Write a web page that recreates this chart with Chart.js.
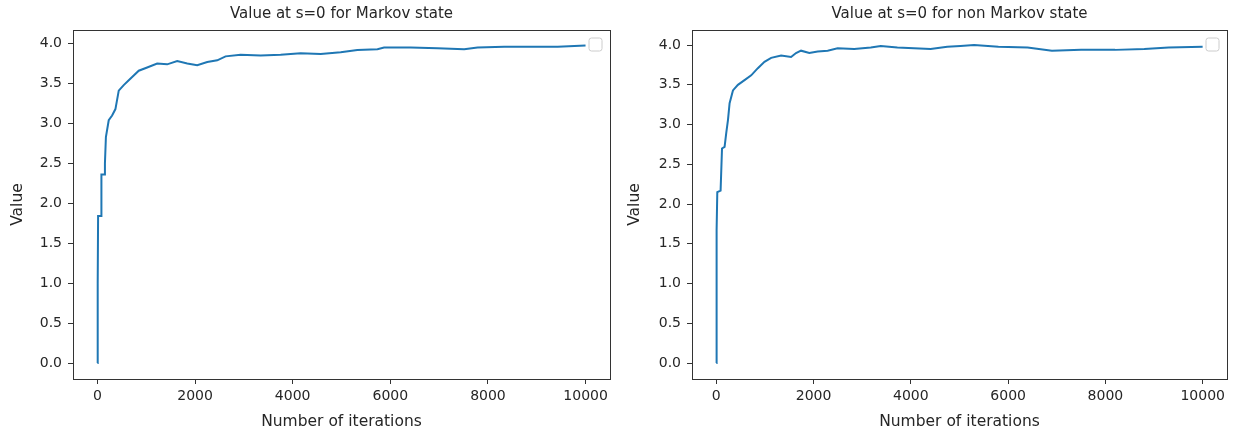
<!DOCTYPE html>
<html>
<head>
<meta charset="utf-8">
<script src="https://cdn.jsdelivr.net/npm/chart.js@4/dist/chart.umd.min.js"></script>
<style>
  html, body { margin: 0; padding: 0; background: #fff; }
  .box { position: absolute; top: 0; width: 617px; height: 435px; }
  #leftBox { left: 0; }
  #rightBox { left: 617px; }
</style>
</head>
<body>
<div class="box" id="leftBox"><canvas id="markovChart" width="617" height="435"></canvas></div>
<div class="box" id="rightBox"><canvas id="nonMarkovChart" width="617" height="435"></canvas></div>
<script>
// values
const markovIters = [0, 6, 14, 76, 82, 137, 154, 174, 232, 301, 369, 437, 539, 642, 744, 847,
  1019, 1224, 1429, 1635, 1840, 2045, 2250, 2455, 2625, 2933, 3343, 3753, 4163, 4573, 4983,
  5325, 5736, 5872, 6419, 6967, 7513, 7787, 8333, 8880, 9428, 9999];
const markovValues = [0, 1.0, 1.84, 1.84, 2.36, 2.36, 2.5, 2.83, 3.04, 3.1, 3.18, 3.41, 3.48, 3.54, 3.6, 3.66,
  3.70, 3.75, 3.74, 3.78, 3.75, 3.73, 3.77, 3.79, 3.84, 3.86, 3.85, 3.86, 3.88, 3.87, 3.89,
  3.92, 3.93, 3.95, 3.95, 3.94, 3.93, 3.95, 3.96, 3.96, 3.96, 3.975];

const nonMarkovIters = [0, 6, 20, 88, 117, 170, 205, 240, 273, 342, 444, 580, 717, 854, 990, 1127,
  1332, 1537, 1639, 1742, 1912, 2084, 2289, 2494, 2834, 3176, 3381, 3723, 4064, 4406, 4748,
  5020, 5300, 5800, 6400, 6900, 7500, 8200, 8800, 9300, 9999];
const nonMarkovValues = [0, 1.67, 2.15, 2.17, 2.70, 2.72, 2.90, 3.06, 3.27, 3.43, 3.50, 3.56, 3.62, 3.71, 3.79, 3.84,
  3.87, 3.85, 3.90, 3.93, 3.90, 3.92, 3.93, 3.96, 3.95, 3.97, 3.99, 3.97, 3.96, 3.95, 3.98,
  3.99, 4.00, 3.98, 3.97, 3.93, 3.94, 3.94, 3.95, 3.97, 3.98];

const xTicks = [0, 2000, 4000, 6000, 8000, 10000];
const yTicks = [0, 0.5, 1.0, 1.5, 2.0, 2.5, 3.0, 3.5, 4.0];

const textColor = "#262626";
const spineColor = "#333";
const lineColor = "#1f77b4";

// full box round the axes plus the empty legend frame in the top right
const framePlugin = {
  id: "frame",
  afterDraw(chart) {
    const { ctx, chartArea: a } = chart;
    ctx.save();
    ctx.strokeStyle = spineColor;
    ctx.lineWidth = 1;
    ctx.strokeRect(Math.round(a.left) + 0.5, Math.round(a.top) + 0.5,
      Math.round(a.right - a.left), Math.round(a.bottom - a.top));
    // empty legend
    const lx = a.right - 21, ly = a.top + 8, s = 13, r = 2.5;
    ctx.beginPath();
    ctx.moveTo(lx + r, ly);
    ctx.arcTo(lx + s, ly, lx + s, ly + s, r);
    ctx.arcTo(lx + s, ly + s, lx, ly + s, r);
    ctx.arcTo(lx, ly + s, lx, ly, r);
    ctx.arcTo(lx, ly, lx + s, ly, r);
    ctx.closePath();
    ctx.fillStyle = "rgba(255,255,255,0.8)";
    ctx.fill();
    ctx.strokeStyle = "#cccccc";
    ctx.stroke();
    ctx.restore();
  },
};

function makeChart(canvasId, titleText, iters, values, yMax, yWidth) {
  const ctx = document.getElementById(canvasId).getContext("2d");
  return new Chart(ctx, {
    type: "line",
    data: {
      datasets: [
        {
          data: iters.map((x, i) => ({ x: x, y: values[i] })),
          borderColor: lineColor,
          borderWidth: 2,
          pointRadius: 0,
          tension: 0,
          fill: false,
        },
      ],
    },
    options: {
      responsive: false,
      animation: false,
      devicePixelRatio: 1,
      layout: { padding: { left: 0, right: 7, top: 0, bottom: 0 } },
      plugins: {
        legend: { display: false },
        tooltip: { enabled: false },
        title: {
          display: true,
          text: titleText,
          fullSize: false,
          color: textColor,
          font: { family: "DejaVu Sans", size: 15, weight: "normal" },
          padding: { top: 5, bottom: 7 },
        },
      },
      scales: {
        x: {
          type: "linear",
          min: -500,
          max: 10500,
          afterBuildTicks: (scale) => {
            scale.ticks = xTicks.map((v) => ({ value: v }));
          },
          afterFit: (scale) => {
            scale.height = 56;
          },
          border: { display: false },
          grid: { drawOnChartArea: false, tickLength: 5, tickColor: spineColor },
          ticks: {
            color: textColor,
            padding: 4,
            maxRotation: 0,
            font: { family: "DejaVu Sans", size: 14 },
            callback: (v) => String(v),
          },
          title: {
            display: true,
            text: "Number of iterations",
            color: textColor,
            font: { family: "DejaVu Sans", size: 15.5 },
            padding: { top: 0, bottom: 4 },
          },
        },
        y: {
          type: "linear",
          min: -0.2,
          max: yMax,
          afterBuildTicks: (scale) => {
            scale.ticks = yTicks.map((v) => ({ value: v }));
          },
          afterFit: (scale) => {
            scale.width = yWidth;
          },
          border: { display: false },
          grid: { drawOnChartArea: false, tickLength: 5, tickColor: spineColor },
          ticks: {
            color: textColor,
            padding: 6,
            font: { family: "DejaVu Sans", size: 14 },
            callback: (v) => Number(v).toFixed(1),
          },
          title: {
            display: true,
            text: "Value",
            color: textColor,
            font: { family: "DejaVu Sans", size: 15.5 },
            padding: { top: 9, bottom: 0 },
          },
        },
      },
    },
    plugins: [framePlugin],
  });
}

makeChart("markovChart", "Value at s=0 for Markov state", markovIters, markovValues, 4.17, 73);
makeChart("nonMarkovChart", "Value at s=0 for non Markov state", nonMarkovIters, nonMarkovValues, 4.19, 75);
</script>
</body>
</html>
